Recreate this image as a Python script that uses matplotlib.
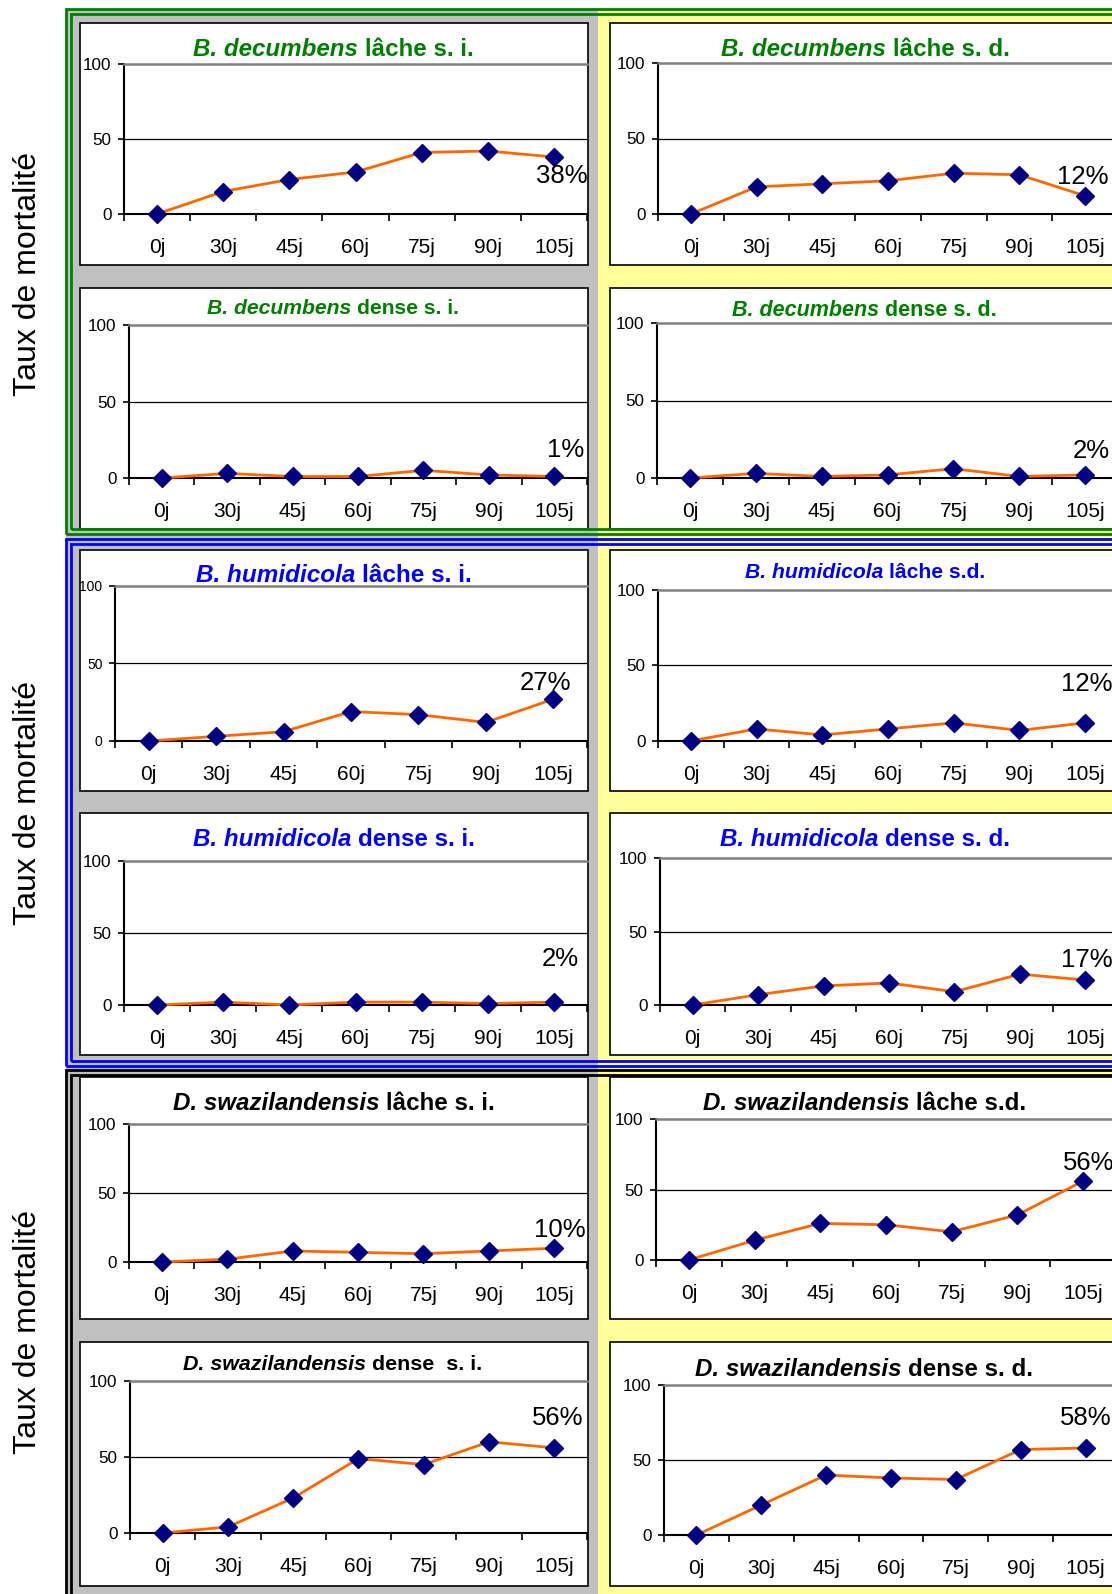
import matplotlib
matplotlib.use("Agg")
import matplotlib.pyplot as plt
from matplotlib.patches import Rectangle

plt.rcParams['font.family'] = ['Liberation Sans', 'DejaVu Sans']

# data (mortality %, per sampling day)
days = ["0j", "30j", "45j", "60j", "75j", "90j", "105j"]
dec_lache_si = [0, 15, 23, 28, 41, 42, 38]
dec_lache_sd = [0, 18, 20, 22, 27, 26, 12]
dec_dense_si = [0, 3, 1, 1, 5, 2, 1]
dec_dense_sd = [0, 3, 1, 2, 6, 1, 2]
hum_lache_si = [0, 3, 6, 19, 17, 12, 27]
hum_lache_sd = [0, 8, 4, 8, 12, 7, 12]
hum_dense_si = [0, 2, 0, 2, 2, 1, 2]
hum_dense_sd = [0, 7, 13, 15, 9, 21, 17]
swa_lache_si = [0, 2, 8, 7, 6, 8, 10]
swa_lache_sd = [0, 14, 26, 25, 20, 32, 56]
swa_dense_si = [0, 4, 23, 49, 45, 60, 56]
swa_dense_sd = [0, 20, 40, 38, 37, 57, 58]

ylabel = "Taux de mortalité"

W, H = 1112, 1594
fig = plt.figure(figsize=(W / 100, H / 100), dpi=100)
fig.patch.set_facecolor("white")


def add_rect(x0, y0, x1, y1, **kw):
    r = Rectangle((x0 / W, 1 - y1 / H), (x1 - x0) / W, (y1 - y0) / H,
                  transform=fig.transFigure, **kw)
    fig.add_artist(r)
    return r


# column backgrounds
add_rect(66, 9, 598, 1600, facecolor="#C0C0C0", edgecolor="none", zorder=-10)
add_rect(598, 9, 1120, 1600, facecolor="#FFFF99", edgecolor="none", zorder=-10)

# group double borders: (outer top, outer bottom, colour)
groups = [(9, 534, "#008000"), (539, 1066, "#0000FF"), (1070, 1610, "black")]
for top, bot, col in groups:
    add_rect(66, top, 1130, bot, facecolor="none", edgecolor=col, lw=2.0, zorder=-2)
    add_rect(71, top + 5, 1130, bot - 5, facecolor="none", edgecolor=col, lw=2.0, zorder=-2)

# panel boxes
rows_y = [(23, 265), (288, 529), (550, 791), (813, 1055), (1077, 1319), (1342, 1586)]
for y0, y1 in rows_y:
    add_rect(80, y0, 588, y1, facecolor="white", edgecolor="black", lw=1.2, zorder=-5)
    add_rect(610, y0, 1130, y1, facecolor="white", edgecolor="black", lw=1.2, zorder=-5)

GREEN, BLUE, BLACK = "#008000", "#0000FF", "black"

# panel layout: values, axes (left, right, top, bottom) px, title parts, colour,
# title x/y px, title size, ytick size, label offset px
panels = [
    (dec_lache_si, (124, 587, 64, 214), "B. decumbens", "lâche s. i.", GREEN, (193, 49), 17.4, 12.3, (8, -19)),
    (dec_lache_sd, (658, 1118, 63, 214), "B. decumbens", "lâche s. d.", GREEN, (721, 49), 17.4, 12.3, (-2, 19)),
    (dec_dense_si, (129, 587, 325, 478), "B. decumbens", "dense s. i.", GREEN, (207, 309), 15.2, 12.3, (11, 26)),
    (dec_dense_sd, (657, 1118, 323, 478), "B. decumbens", "dense s. d.", GREEN, (732, 310), 15.5, 12.3, (6, 24)),
    (hum_lache_si, (115, 587, 586, 741), "B. humidicola", "lâche s. i.", BLUE, (196, 576), 17.5, 10, (-8, 16)),
    (hum_lache_sd, (658, 1118, 590, 741), "B. humidicola", "lâche s.d.", BLUE, (745, 573), 15.2, 12.3, (2, 39)),
    (hum_dense_si, (124, 587, 861, 1005), "B. humidicola", "dense s. i.", BLUE, (193, 840), 17.4, 12.3, (6, 43)),
    (hum_dense_sd, (660, 1118, 858, 1005), "B. humidicola", "dense s. d.", BLUE, (720, 840), 17.4, 12.3, (2, 20)),
    (swa_lache_si, (129, 587, 1124, 1262), "D. swazilandensis", "lâche s. i.", BLACK, (173, 1104), 17.4, 12.3, (6, 18)),
    (swa_lache_sd, (656, 1116, 1119, 1260), "D. swazilandensis", "lâche s.d.", BLACK, (703, 1104), 17.4, 12.3, (6, 18)),
    (swa_dense_si, (130, 587, 1381, 1533), "D. swazilandensis", "dense  s. i.", BLACK, (183, 1364), 15.4, 12.3, (3, 30)),
    (swa_dense_sd, (664, 1118, 1385, 1535), "D. swazilandensis", "dense s. d.", BLACK, (695, 1369), 17.4, 12.3, (0, 30)),
]

x = list(range(len(days)))

for vals, (l, r, t, b), sp, rest, col, (tx, ty), tsize, ysize, (dx, dy) in panels:
    ax = fig.add_axes([l / W, 1 - b / H, (r - l) / W, (b - t) / H])
    ax.patch.set_visible(False)
    ax.plot(x, vals, color="#FF6600", lw=2.0, marker="D", markersize=9,
            markerfacecolor="#000080", markeredgecolor="#000080", clip_on=False, zorder=3)
    ax.set_xlim(-0.5, len(days) - 0.5)
    ax.set_ylim(0, 100)
    ax.set_yticks([0, 50, 100])
    ax.axhline(50, color="black", lw=0.9, zorder=1)
    ax.set_xticks(x)
    ax.set_xticklabels(days)
    ax.set_xticks([i - 0.5 for i in range(len(days) + 1)], minor=True)
    ax.tick_params(axis="x", which="major", length=0, pad=17, labelsize=15)
    ax.tick_params(axis="x", which="minor", length=5, width=1.2, direction="out")
    ax.tick_params(axis="y", length=4, width=1.2, pad=5, labelsize=ysize)
    for s in ("left", "bottom"):
        ax.spines[s].set_color("black")
        ax.spines[s].set_linewidth(1.5)
    ax.spines["top"].set_color("#808080")
    ax.spines["top"].set_linewidth(1.8)
    ax.spines["right"].set_visible(False)

    ax.annotate(f"{vals[-1]}%", xy=(len(days) - 1, vals[-1]), xytext=(dx, dy),
                textcoords="offset pixels", ha="center", va="center", fontsize=18.5,
                annotation_clip=False)

    t1 = fig.text(tx / W, 1 - ty / H, sp, color=col, fontsize=tsize, fontweight="bold",
                  style="italic", ha="left", va="center")
    ax.annotate(rest, xy=(1, 0), xycoords=t1, xytext=(0.28 * tsize, 0),
                textcoords="offset points", ha="left", va="bottom", color=col,
                fontsize=tsize, fontweight="bold", annotation_clip=False)

for yc in (274, 803, 1332):
    fig.text(28 / W, 1 - yc / H, ylabel, rotation=90, fontsize=23, ha="center", va="center")

fig.savefig("out.png", dpi=100)
